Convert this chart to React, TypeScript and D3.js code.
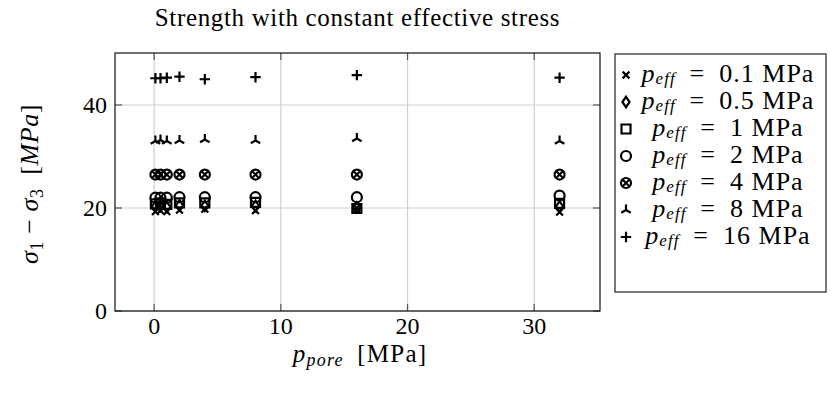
import React, { useEffect, useRef } from 'react';
import * as d3 from 'd3';

// pore pressures used in every test series
const porePressure = [0.1, 0.5, 1, 2, 4, 8, 16, 32];

// deviatoric stress at failure, one array per effective stress
const strengthP01 = [19.3, 19.5, 19.3, 19.6, 19.8, 19.5, 20.0, 19.2];
const strengthP05 = [20.3, 20.4, 20.2, 20.5, 20.4, 20.4, 20.1, 20.3];
const strengthP1 = [20.8, 21.0, 20.7, 21.0, 21.0, 21.1, 19.9, 20.9];
const strengthP2 = [22.0, 22.0, 22.0, 22.1, 22.1, 22.1, 22.1, 22.4];
const strengthP4 = [26.5, 26.5, 26.5, 26.5, 26.5, 26.5, 26.5, 26.5];
const strengthP8 = [33.0, 33.2, 33.0, 33.1, 33.3, 33.1, 33.5, 33.0];
const strengthP16 = [45.2, 45.2, 45.3, 45.5, 45.0, 45.4, 45.8, 45.3];

const effLabels = ['0.1', '0.5', '1', '2', '4', '8', '16'];
const markTypes = ['x', 'diamond', 'square', 'circle', 'otimes', 'tri', 'plus'];
const seriesValues = [strengthP01, strengthP05, strengthP1, strengthP2, strengthP4, strengthP8, strengthP16];

const xTicks = [0, 10, 20, 30];
const yTicks = [0, 20, 40];

const FONT = '"Liberation Serif", "DejaVu Serif", serif';

const markPath = (type: string): string => {
  const r = 5;
  switch (type) {
    case 'x': {
      const a = 3.4;
      return `M${-a},${-a}L${a},${a}M${-a},${a}L${a},${-a}`;
    }
    case 'plus': {
      const a = 5.2;
      return `M${-a},0L${a},0M0,${-a}L0,${a}`;
    }
    case 'square':
      return `M-4.5,-4.5H4.5V4.5H-4.5Z`;
    case 'diamond':
      return `M0,-5.2L3.6,0L0,5.2L-3.6,0Z`;
    case 'tri': {
      const a = 5.5;
      const c = Math.cos(Math.PI / 6) * a;
      const s = Math.sin(Math.PI / 6) * a;
      return `M0,0L0,${-a}M0,0L${-c},${s}M0,0L${c},${s}`;
    }
    case 'otimes': {
      const a = r * 0.7;
      return `M${r},0A${r},${r} 0 1,1 ${-r},0A${r},${r} 0 1,1 ${r},0Z` +
        `M${-a},${-a}L${a},${a}M${-a},${a}L${a},${-a}`;
    }
    default:
      return `M${r},0A${r},${r} 0 1,1 ${-r},0A${r},${r} 0 1,1 ${r},0Z`;
  }
};

const App: React.FC = () => {
  const svgRef = useRef<SVGSVGElement>(null);

  useEffect(() => {
    if (!svgRef.current) return;
    const svg = d3.select(svgRef.current);
    svg.selectAll('*').remove();

    const left = 115, right = 600, top = 53, bottom = 311;

    const x = d3.scaleLinear().domain([-3.09, 35.19]).range([left, right]);
    const y = d3.scaleLinear().domain([0, 50.1]).range([bottom, top]);

    // grid
    const grid = svg.append('g');
    grid.selectAll('.gx').data(xTicks).enter().append('line')
      .attr('x1', d => x(d)).attr('x2', d => x(d))
      .attr('y1', top).attr('y2', bottom)
      .attr('stroke', '#cfcfcf').attr('stroke-width', 1.2);
    grid.selectAll('.gy').data(yTicks).enter().append('line')
      .attr('y1', d => y(d)).attr('y2', d => y(d))
      .attr('x1', left).attr('x2', right)
      .attr('stroke', '#cfcfcf').attr('stroke-width', 1.2);

    // inner ticks on all sides
    const tl = 7;
    const ticks = svg.append('g').attr('stroke', '#555').attr('stroke-width', 1.2);
    xTicks.forEach(t => {
      ticks.append('line').attr('x1', x(t)).attr('x2', x(t)).attr('y1', bottom).attr('y2', bottom - tl);
      ticks.append('line').attr('x1', x(t)).attr('x2', x(t)).attr('y1', top).attr('y2', top + tl);
    });
    yTicks.forEach(t => {
      ticks.append('line').attr('y1', y(t)).attr('y2', y(t)).attr('x1', left).attr('x2', left + tl);
      ticks.append('line').attr('y1', y(t)).attr('y2', y(t)).attr('x1', right).attr('x2', right - tl);
    });

    // points
    seriesValues.forEach((vals, si) => {
      svg.append('g').selectAll('path').data(vals).enter().append('path')
        .attr('transform', (d, i) => `translate(${x(porePressure[i])},${y(d)})`)
        .attr('d', markPath(markTypes[si]))
        .attr('fill', 'none')
        .attr('stroke', '#000')
        .attr('stroke-width', 2.2);
    });

    // axis frame
    svg.append('rect')
      .attr('x', left).attr('y', top)
      .attr('width', right - left).attr('height', bottom - top)
      .attr('fill', 'none').attr('stroke', '#111').attr('stroke-width', 1.2);

    // tick labels
    svg.append('g').selectAll('text').data(xTicks).enter().append('text')
      .attr('x', d => x(d)).attr('y', bottom + 23)
      .attr('text-anchor', 'middle')
      .attr('font-family', FONT).attr('font-size', 24)
      .text(d => d);
    svg.append('g').selectAll('text').data(yTicks).enter().append('text')
      .attr('x', left - 8).attr('y', d => y(d) + 8)
      .attr('text-anchor', 'end')
      .attr('font-family', FONT).attr('font-size', 24)
      .text(d => d);

    // title
    svg.append('text')
      .attr('x', (left + right) / 2).attr('y', 26)
      .attr('text-anchor', 'middle')
      .attr('font-family', FONT).attr('font-size', 25)
      .attr('letter-spacing', 0.65)
      .text('Strength with constant effective stress');

    // x label
    const xl = svg.append('text')
      .attr('x', 360).attr('y', 362)
      .attr('text-anchor', 'middle')
      .attr('font-family', FONT).attr('font-size', 25)
      .attr('letter-spacing', 1.2);
    xl.append('tspan').attr('font-style', 'italic').text('p');
    xl.append('tspan').attr('font-style', 'italic').attr('font-size', 18).attr('dy', 4).text('pore');
    xl.append('tspan').attr('dy', -4).text('\u2002[MPa]');

    // y label
    const yl = svg.append('text')
      .attr('transform', 'translate(38,184) rotate(-90)')
      .attr('text-anchor', 'middle')
      .attr('font-family', FONT).attr('font-size', 26)
      .attr('letter-spacing', 0.6);
    yl.append('tspan').attr('font-style', 'italic').text('σ');
    yl.append('tspan').attr('font-size', 18).attr('dy', 5).text('1');
    yl.append('tspan').attr('dy', -5).text(' − ');
    yl.append('tspan').attr('font-style', 'italic').text('σ');
    yl.append('tspan').attr('font-size', 18).attr('dy', 5).text('3');
    yl.append('tspan').attr('dy', -5).text('\u2002[');
    yl.append('tspan').attr('font-style', 'italic').text('MPa');
    yl.append('tspan').text(']');

    // legend
    const lg = svg.append('g');
    lg.append('rect')
      .attr('x', 615).attr('y', 54).attr('width', 211).attr('height', 238)
      .attr('fill', '#fff').attr('stroke', '#222').attr('stroke-width', 1.2);
    effLabels.forEach((lab, i) => {
      const cy = 75 + i * 27;
      lg.append('path')
        .attr('transform', `translate(626,${cy})`)
        .attr('d', markPath(markTypes[i]))
        .attr('fill', 'none').attr('stroke', '#000').attr('stroke-width', 2.2);
      const t = lg.append('text')
        .attr('x', 728).attr('y', cy + 7)
        .attr('text-anchor', 'middle')
        .attr('font-family', FONT).attr('font-size', 26)
        .attr('letter-spacing', 1);
      t.append('tspan').attr('font-style', 'italic').text('p');
      t.append('tspan').attr('font-style', 'italic').attr('font-size', 17).attr('dy', 2).text('eff');
      t.append('tspan').attr('dy', -2).text(`\u2002=\u2002${lab} MPa`);
    });
  }, []);

  return (
    <div style={{ position: 'absolute', left: 0, top: 0 }}>
      <svg ref={svgRef} width="833" height="393" style={{ display: 'block', background: '#fff' }} />
    </div>
  );
};

export default App;
